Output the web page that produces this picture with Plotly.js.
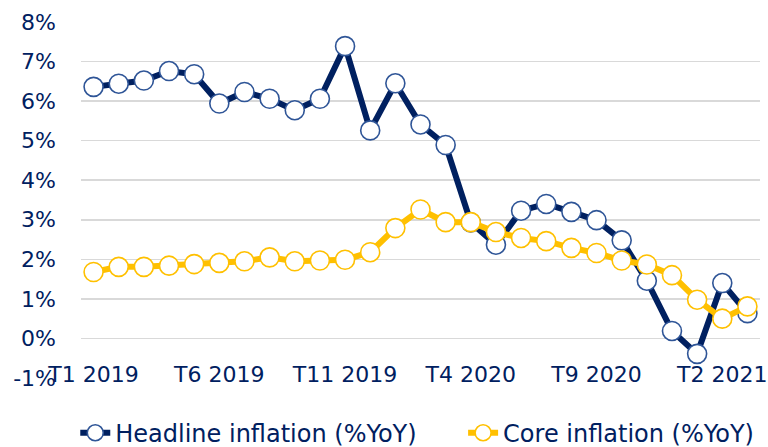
<!DOCTYPE html>
<html>
<head>
<meta charset="utf-8">
<script src="https://cdn.plot.ly/plotly-3.0.1.min.js"></script>
<style>html,body{margin:0;padding:0;background:#fff;}#chart{width:768px;height:447px;}</style>
</head>
<body>
<div id="chart"></div>
<script>
const months = [
  "T1 2019","T2 2019","T3 2019","T4 2019","T5 2019","T6 2019","T7 2019","T8 2019","T9 2019","T10 2019","T11 2019","T12 2019",
  "T1 2020","T2 2020","T3 2020","T4 2020","T5 2020","T6 2020","T7 2020","T8 2020","T9 2020","T10 2020","T11 2020","T12 2020",
  "T1 2021","T2 2021","T3 2021"
];
const headline = [6.36, 6.44, 6.52, 6.76, 6.68, 5.94, 6.23, 6.06, 5.77, 6.06, 7.39, 5.26,
  6.45, 5.41, 4.89, 2.93, 2.37, 3.23, 3.40, 3.20, 2.99, 2.48, 1.46, 0.19, -0.39, 1.40, 0.64];
const core = [1.68, 1.81, 1.81, 1.84, 1.88, 1.91, 1.95, 2.05, 1.95, 1.97, 1.99, 2.18,
  2.79, 3.26, 2.94, 2.94, 2.69, 2.54, 2.46, 2.29, 2.16, 1.97, 1.87, 1.60, 0.98, 0.50, 0.81];
const xTickLabels = ["T1 2019","T6 2019","T11 2019","T4 2020","T9 2020","T2 2021"];
const yTickValues = [-1, 0, 1, 2, 3, 4, 5, 6, 7, 8];
const yTickLabels = ["-1%","0%","1%","2%","3%","4%","5%","6%","7%","8%"];
const names = ["Headline inflation (%YoY)", "Core inflation (%YoY)"];

const textColor = "#002060";
const font = "DejaVu Sans";

const traces = [
  {
    x: months, y: headline, name: names[0], type: "scatter", mode: "lines+markers",
    legend: "legend",
    line: {color: "#002060", width: 6},
    marker: {symbol: "circle", size: 19, color: "#ffffff", line: {color: "#2F5597", width: 1.6}}
  },
  {
    x: months, y: core, name: names[1], type: "scatter", mode: "lines+markers",
    legend: "legend2",
    line: {color: "#FFC000", width: 6},
    marker: {symbol: "circle", size: 19, color: "#ffffff", line: {color: "#FFC000", width: 1.6}}
  }
];

const legendBase = {
  orientation: "h", xref: "container", yref: "container",
  xanchor: "left", y: 0.031, yanchor: "middle",
  font: {family: font, color: textColor, size: 24},
  itemwidth: 30, bgcolor: "rgba(0,0,0,0)"
};

const layout = {
  width: 768, height: 447,
  paper_bgcolor: "#ffffff", plot_bgcolor: "#ffffff",
  margin: {l: 81, r: 8, t: 22, b: 69, autoexpand: false},
  font: {family: font, color: textColor, size: 22},
  showlegend: true,
  legend: Object.assign({}, legendBase, {x: 0.098}),
  legend2: Object.assign({}, legendBase, {x: 0.603}),
  xaxis: {
    type: "category", categoryorder: "array", categoryarray: months,
    range: [-0.5, 26.5],
    tickmode: "array", tickvals: xTickLabels, ticktext: xTickLabels,
    showgrid: false, zeroline: false, showline: false, ticks: "",
    tickfont: {family: font, color: textColor, size: 22},
    ticklabelstandoff: -19, automargin: false
  },
  yaxis: {
    range: [-1, 8], tickmode: "array", tickvals: yTickValues, ticktext: yTickLabels,
    showgrid: true, gridcolor: "#d9d9d9", gridwidth: 1.5,
    zeroline: false, showline: false, ticks: "",
    tickfont: {family: font, color: textColor, size: 22},
    ticklabelstandoff: 24, automargin: false
  }
};

Plotly.newPlot("chart", traces, layout, {displayModeBar: false, staticPlot: true});
</script>
</body>
</html>
